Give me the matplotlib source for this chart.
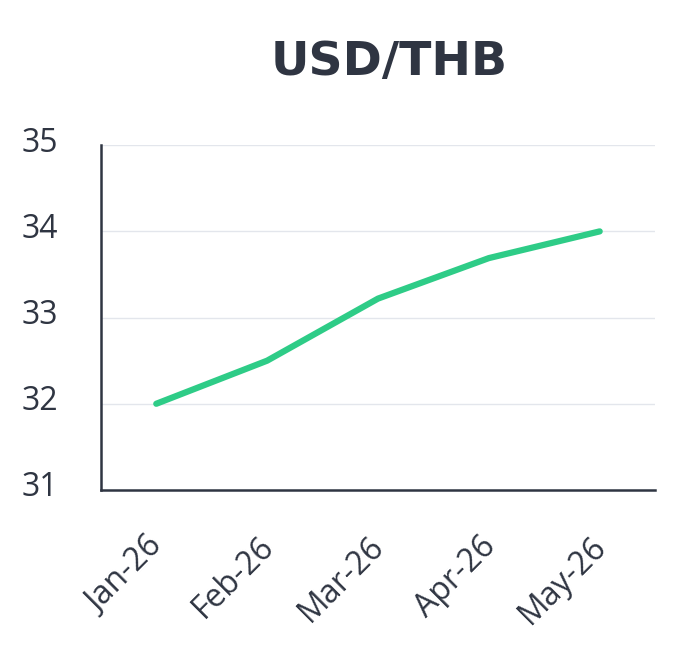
import matplotlib
matplotlib.use('Agg')
import matplotlib.pyplot as plt
from matplotlib.transforms import ScaledTranslation

months = ['Jan-26', 'Feb-26', 'Mar-26', 'Apr-26', 'May-26']
rate = [32.0, 32.5, 33.22, 33.69, 34.0]
yticks = [31, 32, 33, 34, 35]

dark = '#2f3542'
green = '#2ecc87'

plt.rcParams['font.family'] = ['Open Sans', 'DejaVu Sans']

fig = plt.figure(figsize=(6.86, 6.63), dpi=100)
ax = fig.add_axes([0.147, 0.261, 0.808, 0.52])

x = list(range(len(months)))
ax.plot(x, rate, color=green, lw=4.5, solid_capstyle='round', solid_joinstyle='round', zorder=3)

ax.set_xlim(-0.5, len(months) - 0.5)
ax.set_ylim(31, 35)
ax.set_yticks(yticks)
ax.set_yticklabels([str(v) for v in yticks], fontsize=23, color=dark)
ax.set_xticks(x)
ax.set_xticklabels(months, fontsize=23, color=dark, rotation=45, ha='right', rotation_mode='anchor')

ax.grid(axis='y', color='#e3e6ec', lw=1)
ax.set_axisbelow(True)
ax.tick_params(axis='both', length=0)
ax.tick_params(axis='y', pad=31)
ax.tick_params(axis='x', pad=29)

# nudge y labels up a little, like the reference
up = ScaledTranslation(0, 6 / 100, fig.dpi_scale_trans)
for lab in ax.get_yticklabels():
    lab.set_transform(lab.get_transform() + up)
left = ScaledTranslation(-10 / 100, 0, fig.dpi_scale_trans)
for lab in ax.get_xticklabels():
    lab.set_transform(lab.get_transform() + left)

for s in ['top', 'right']:
    ax.spines[s].set_visible(False)
for s in ['left', 'bottom']:
    ax.spines[s].set_color(dark)
    ax.spines[s].set_linewidth(1.8)

fig.text(0.568, 0.905, 'USD/THB', ha='center', va='center', fontsize=34, fontweight='bold',
         color=dark, family='DejaVu Sans')

fig.savefig('out.png', dpi=100)
